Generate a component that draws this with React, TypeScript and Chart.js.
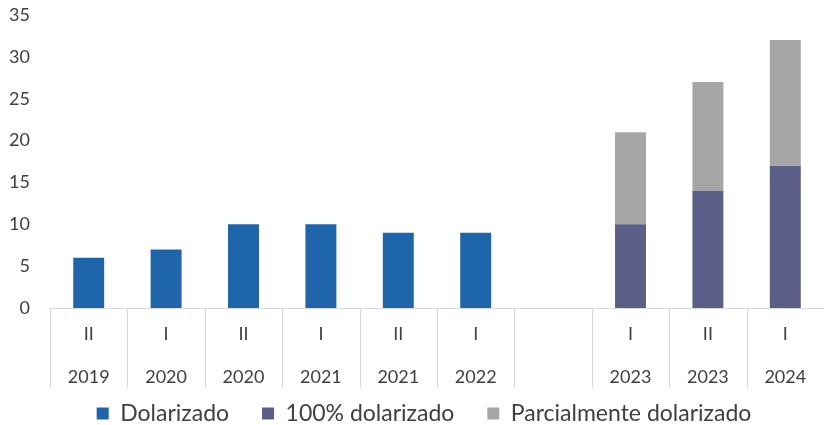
import React, { useEffect, useRef } from "react";
import { Chart, registerables } from "chart.js";

Chart.register(...registerables);

const semesters = ["II", "I", "II", "I", "II", "I", "", "I", "II", "I"];
const years = ["2019", "2020", "2020", "2021", "2021", "2022", "", "2023", "2023", "2024"];
const dolarizado = [6, 7, 10, 10, 9, 9, null, null, null, null];
const dolarizado100 = [null, null, null, null, null, null, null, 10, 14, 17];
const parcial = [null, null, null, null, null, null, null, 11, 13, 15];
const yTicks = [0, 5, 10, 15, 20, 25, 30, 35];

const FONT = "Lato, 'Open Sans', sans-serif";

const separators = {
  id: "categorySeparators",
  afterLayout(chart: any) {
    // nudge the centred legend row slightly to the right, as in the reference
    if (chart.legend) chart.legend.left += 24;
  },
  afterDraw(chart: any) {
    const x = chart.scales.x;
    const ctx = chart.ctx;
    const n = chart.data.labels.length;
    const half = (x.getPixelForValue(1) - x.getPixelForValue(0)) / 2;
    ctx.save();
    ctx.strokeStyle = "#D9D9D9";
    ctx.lineWidth = 1;
    ctx.beginPath();
    for (let i = 0; i <= n; i++) {
      const px = Math.round(x.getPixelForValue(i) - half) + 0.5;
      ctx.moveTo(px, x.top);
      ctx.lineTo(px, x.top + 80);
    }
    ctx.stroke();
    ctx.restore();
  },
};

export default function App() {
  const ref = useRef<HTMLCanvasElement | null>(null);
  useEffect(() => {
    if (!ref.current) return;
    const labels = semesters.map((s, i) => [s, years[i]]);
    const chart = new Chart(ref.current, {
      type: "bar",
      data: {
        labels,
        datasets: [
          { label: "Dolarizado", data: dolarizado, backgroundColor: "#1F65AC" },
          { label: "100% dolarizado", data: dolarizado100, backgroundColor: "#5B5E86" },
          { label: "Parcialmente dolarizado", data: parcial, backgroundColor: "#A6A6A6" },
        ],
      },
      plugins: [separators],
      options: {
        animation: false,
        responsive: true,
        maintainAspectRatio: false,
        datasets: { bar: { categoryPercentage: 1, barPercentage: 0.4 } },
        layout: { padding: { top: 15, right: 0, left: 0, bottom: 0 } },
        plugins: {
          tooltip: { enabled: false },
          legend: {
            position: "bottom",
            maxHeight: 56,
            labels: {
              boxWidth: 12,
              boxHeight: 12,
              padding: 33,
              color: "#404040",
              font: { family: FONT, size: 23 },
            },
          },
        },
        scales: {
          x: {
            stacked: true,
            afterFit: (s: any) => {
              s.height = 61;
              s._computeLabelArea = () => undefined;
            },
            grid: { display: false, drawTicks: false },
            border: { display: true, color: "#D9D9D9" },
            ticks: {
              color: "#404040",
              maxRotation: 0,
              autoSkip: false,
              padding: 5,
              font: { family: FONT, size: 18, lineHeight: "43px" },
            },
          },
          y: {
            stacked: true,
            min: 0,
            max: 35,
            afterBuildTicks: (s: any) => {
              s.ticks = yTicks.map((v) => ({ value: v }));
            },
            afterFit: (s: any) => {
              s.width = 50;
              s.paddingTop = 0;
            },
            grid: { display: false, drawTicks: false },
            border: { display: false },
            ticks: {
              color: "#404040",
              padding: 20,
              font: { family: FONT, size: 18 },
            },
          },
        },
      },
    });
    return () => chart.destroy();
  }, []);
  return (
    <div style={{ position: "absolute", left: 0, top: 0, width: 824, height: 425, background: "#fff" }}>
      <canvas ref={ref} />
    </div>
  );
}
